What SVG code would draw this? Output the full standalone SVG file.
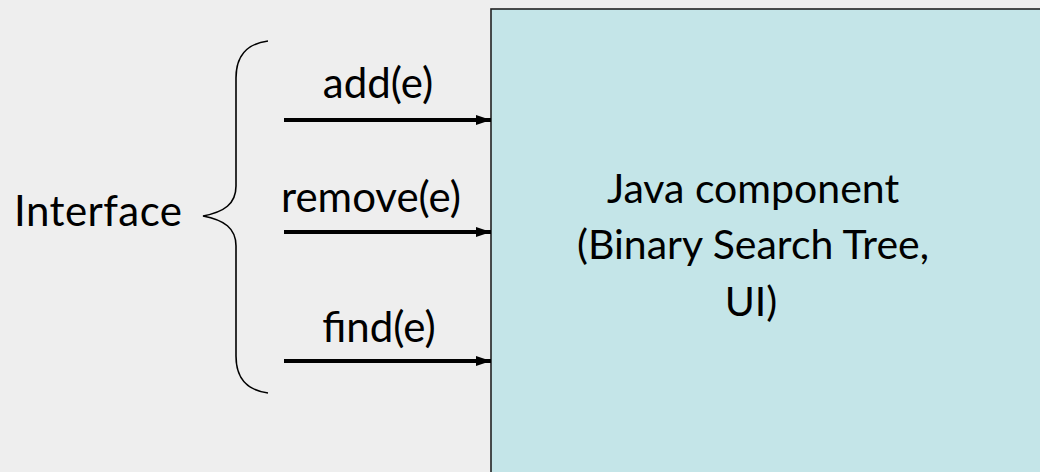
<svg xmlns="http://www.w3.org/2000/svg" width="1040" height="472" viewBox="0 0 1040 472">
  <style>
    .lbl { font-family: Lato, "Liberation Sans", sans-serif; font-size: 41px; fill: #000; }
    .big { font-size: 42px; }
    .mid { text-anchor: middle; }
    .conn { stroke: #000; stroke-width: 4; fill: none; marker-end: url(#head); }
    .brace { stroke: #000; stroke-width: 1.6; fill: none; }
    .comp { fill: #c4e5e8; stroke: #222; stroke-width: 1.6; }
  </style>
  <defs>
    <marker id="head" viewBox="0 0 15 10" refX="15" refY="5" markerUnits="userSpaceOnUse" markerWidth="15" markerHeight="10" orient="auto">
      <path d="M0,0 L15,5 L0,10 Z" fill="#000"/>
    </marker>
  </defs>

  <rect width="1040" height="472" fill="#eeeeee"/>

  <!-- component box, running off the right and bottom edges -->
  <g id="component">
    <rect class="comp" x="491" y="9" width="560" height="480"/>
    <text class="lbl mid" x="753" y="203">Java component</text>
    <text class="lbl mid" x="753" y="259">(Binary Search Tree,</text>
    <text class="lbl mid" x="751" y="316">UI)</text>
  </g>

  <!-- interface brace and caption -->
  <g id="interface">
    <path class="brace" d="M268,41 C246,44 236,56 236,78 L236,186 C236,204 224,212 203,216 C224,220 236,228 236,246 L236,356 C236,378 246,390 268,393"/>
    <text class="lbl big" x="14" y="226" textLength="168" lengthAdjust="spacing">Interface</text>
  </g>

  <!-- operations -->
  <g id="connectors">
    <path class="conn" d="M284,120 L491,120"/>
    <path class="conn" d="M284,232 L491,232"/>
    <path class="conn" d="M284,361 L491,361"/>
  </g>
  <g id="op-add"><text class="lbl big mid" x="378" y="98">add(e)</text></g>
  <g id="op-remove"><text class="lbl big mid" x="371" y="212">remove(e)</text></g>
  <g id="op-find"><text class="lbl big mid" x="379" y="342">find(e)</text></g>
</svg>
